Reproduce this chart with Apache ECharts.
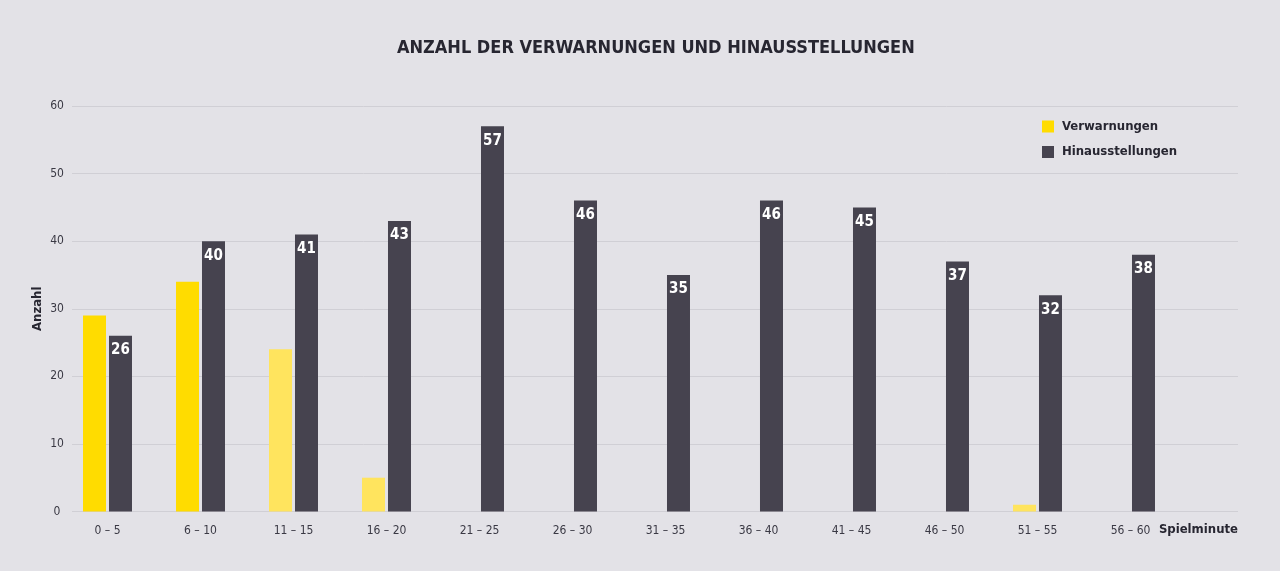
<!DOCTYPE html>
<html>
<head>
<meta charset="utf-8">
<script src="https://cdn.jsdelivr.net/npm/echarts@6/dist/echarts.min.js"></script>
<style>
  html, body { margin: 0; padding: 0; background: #e3e2e7; }
  #main { width: 1280px; height: 571px; }
</style>
</head>
<body>
<div id="main"></div>
<script>
// Spielminuten-Intervalle
var categories = ['0 – 5', '6 – 10', '11 – 15', '16 – 20', '21 – 25', '26 – 30',
  '31 – 35', '36 – 40', '41 – 45', '46 – 50', '51 – 55', '56 – 60'];
var verwarnungen = [29, 34, 24, 5, 0, 0, 0, 0, 0, 0, 1, 0];
var hinausstellungen = [26, 40, 41, 43, 57, 46, 35, 46, 45, 37, 32, 38];
// these yellow bars are drawn in the paler tone
var paleIdx = [2, 3, 10];
var yTicks = [0, 10, 20, 30, 40, 50, 60];

var FONT = 'DejaVu Sans Condensed';
var DARK = '#46434f';
var YELLOW = '#ffdc00';
var PALE = '#ffe45e';

var chart = echarts.init(document.getElementById('main'));

var yellowData = verwarnungen.map(function (v, i) {
  return {
    value: v,
    itemStyle: { color: paleIdx.indexOf(i) >= 0 ? PALE : YELLOW }
  };
});

var option = {
  backgroundColor: '#e3e2e7',
  textStyle: { fontFamily: FONT },
  title: {
    text: 'ANZAHL DER VERWARNUNGEN UND HINAUSSTELLUNGEN',
    left: 392,
    top: 34,
    textStyle: { fontFamily: FONT, fontSize: 18, fontWeight: 'bold', color: '#272631' }
  },
  legend: {
    orient: 'vertical',
    left: 1042,
    top: 120,
    padding: 0,
    itemWidth: 12,
    itemHeight: 12,
    itemGap: 12.5,
    icon: 'rect',
    textStyle: { fontFamily: FONT, fontSize: 13, fontWeight: 'bold', color: '#272631', padding: [0, 0, 0, 3] },
    data: [
      { name: 'Verwarnungen', itemStyle: { color: YELLOW } },
      { name: 'Hinausstellungen', itemStyle: { color: DARK } }
    ]
  },
  grid: [
    // background grid with the gridlines
    { left: 72, right: 42, top: 106, bottom: 59.5 },
    // bars
    { left: 61, right: 103, top: 106, bottom: 59.5 }
  ],
  xAxis: [
    {
      gridIndex: 0,
      type: 'value',
      min: 0, max: 1,
      axisLine: { show: false },
      axisTick: { show: false },
      axisLabel: { show: false },
      splitLine: { show: false },
      name: 'Spielminute',
      nameLocation: 'end',
      nameGap: 0,
      nameTextStyle: {
        fontFamily: FONT, fontSize: 13, fontWeight: 'bold', color: '#272631',
        align: 'right', verticalAlign: 'top', padding: [12, 0, 0, 0]
      }
    },
    {
      gridIndex: 1,
      type: 'category',
      data: categories,
      axisLine: { show: false },
      axisTick: { show: false },
      axisLabel: { fontFamily: FONT, fontSize: 12, color: '#3a3944', margin: 13 }
    }
  ],
  yAxis: [
    {
      gridIndex: 0,
      type: 'value',
      min: yTicks[0],
      max: yTicks[yTicks.length - 1],
      interval: 10,
      axisLine: { show: false },
      axisTick: { show: false },
      axisLabel: { fontFamily: FONT, fontSize: 12, color: '#3a3944', align: 'center', margin: 15 },
      splitLine: { lineStyle: { color: '#d0cfd5', width: 1 } },
      name: 'Anzahl',
      nameLocation: 'middle',
      nameGap: 28,
      nameMoveOverlap: false,
      nameTextStyle: { fontFamily: FONT, fontSize: 13, fontWeight: 'bold', color: '#272631' }
    },
    {
      gridIndex: 1,
      type: 'value',
      min: yTicks[0],
      max: yTicks[yTicks.length - 1],
      show: false
    }
  ],
  series: [
    {
      name: 'Verwarnungen',
      type: 'bar',
      xAxisIndex: 1,
      yAxisIndex: 1,
      barWidth: 23,
      barGap: '13%',
      itemStyle: { color: YELLOW },
      data: yellowData
    },
    {
      name: 'Hinausstellungen',
      type: 'bar',
      xAxisIndex: 1,
      yAxisIndex: 1,
      barWidth: 23,
      itemStyle: { color: DARK },
      label: {
        show: true,
        position: 'insideTop',
        distance: 7,
        color: '#ffffff',
        fontFamily: FONT,
        fontSize: 15,
        fontWeight: 'bold'
      },
      data: hinausstellungen
    }
  ]
};

chart.setOption(option);
</script>
</body>
</html>
